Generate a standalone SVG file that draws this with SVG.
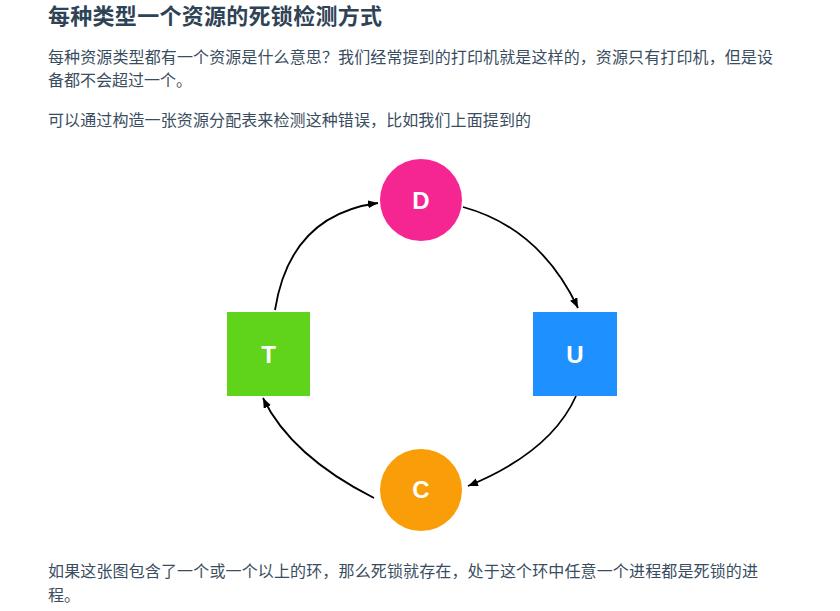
<svg xmlns="http://www.w3.org/2000/svg" width="840" height="611" viewBox="0 0 840 611">
  <style>
    .title { font-family: "Liberation Sans", "Noto Sans CJK SC", sans-serif; font-size: 22px; font-weight: bold; fill: #2f4356; }
    .body { font-family: "Liberation Sans", "Noto Sans CJK SC", sans-serif; font-size: 16px; fill: #3a4d60; }
    .lbl { font-family: "Liberation Sans", Arial, sans-serif; font-size: 24px; font-weight: bold; fill: #ffffff; text-anchor: middle; }
    .edge { fill: none; stroke: #000000; stroke-width: 1.8; marker-end: url(#arrow); }
  </style>
  <defs>
    <marker id="arrow" markerUnits="userSpaceOnUse" markerWidth="11" markerHeight="9" refX="10" refY="4" orient="auto">
      <path d="M0,0 L10,4 L0,8 Z" fill="#000000"/>
    </marker>
  </defs>
  <rect width="840" height="611" fill="#ffffff"/>

  <text class="title" x="48" y="24" textLength="334" lengthAdjust="spacing">每种类型一个资源的死锁检测方式</text>
  <text class="body" x="48" y="63" textLength="725" lengthAdjust="spacing">每种资源类型都有一个资源是什么意思？我们经常提到的打印机就是这样的，资源只有打印机，但是设</text>
  <text class="body" x="48" y="86">备都不会超过一个。</text>
  <text class="body" x="48" y="126" textLength="483" lengthAdjust="spacing">可以通过构造一张资源分配表来检测这种错误，比如我们上面提到的</text>
  <text class="body" x="48" y="577" textLength="710" lengthAdjust="spacing">如果这张图包含了一个或一个以上的环，那么死锁就存在，处于这个环中任意一个进程都是死锁的进</text>
  <text class="body" x="48" y="601">程。</text>

  <g id="connectors">
    <path class="edge" d="M275,310 Q290,215 378,203"/>
    <path class="edge" d="M463,207 Q540,228 578,308"/>
    <path class="edge" d="M576,396 Q551,452 468,486"/>
    <path class="edge" d="M374,498 Q291,456 263,398"/>
  </g>

  <g id="node-D">
    <circle cx="421" cy="200" r="41" fill="#f52691"/>
    <text class="lbl" x="421" y="209">D</text>
  </g>
  <g id="node-T">
    <rect x="227" y="312" width="83" height="84" fill="#5fd41a"/>
    <text class="lbl" x="268.5" y="363">T</text>
  </g>
  <g id="node-U">
    <rect x="533" y="312" width="84" height="84" fill="#1e90ff"/>
    <text class="lbl" x="575" y="363">U</text>
  </g>
  <g id="node-C">
    <circle cx="421" cy="490" r="41" fill="#f99e08"/>
    <text class="lbl" x="421" y="498">C</text>
  </g>
</svg>
